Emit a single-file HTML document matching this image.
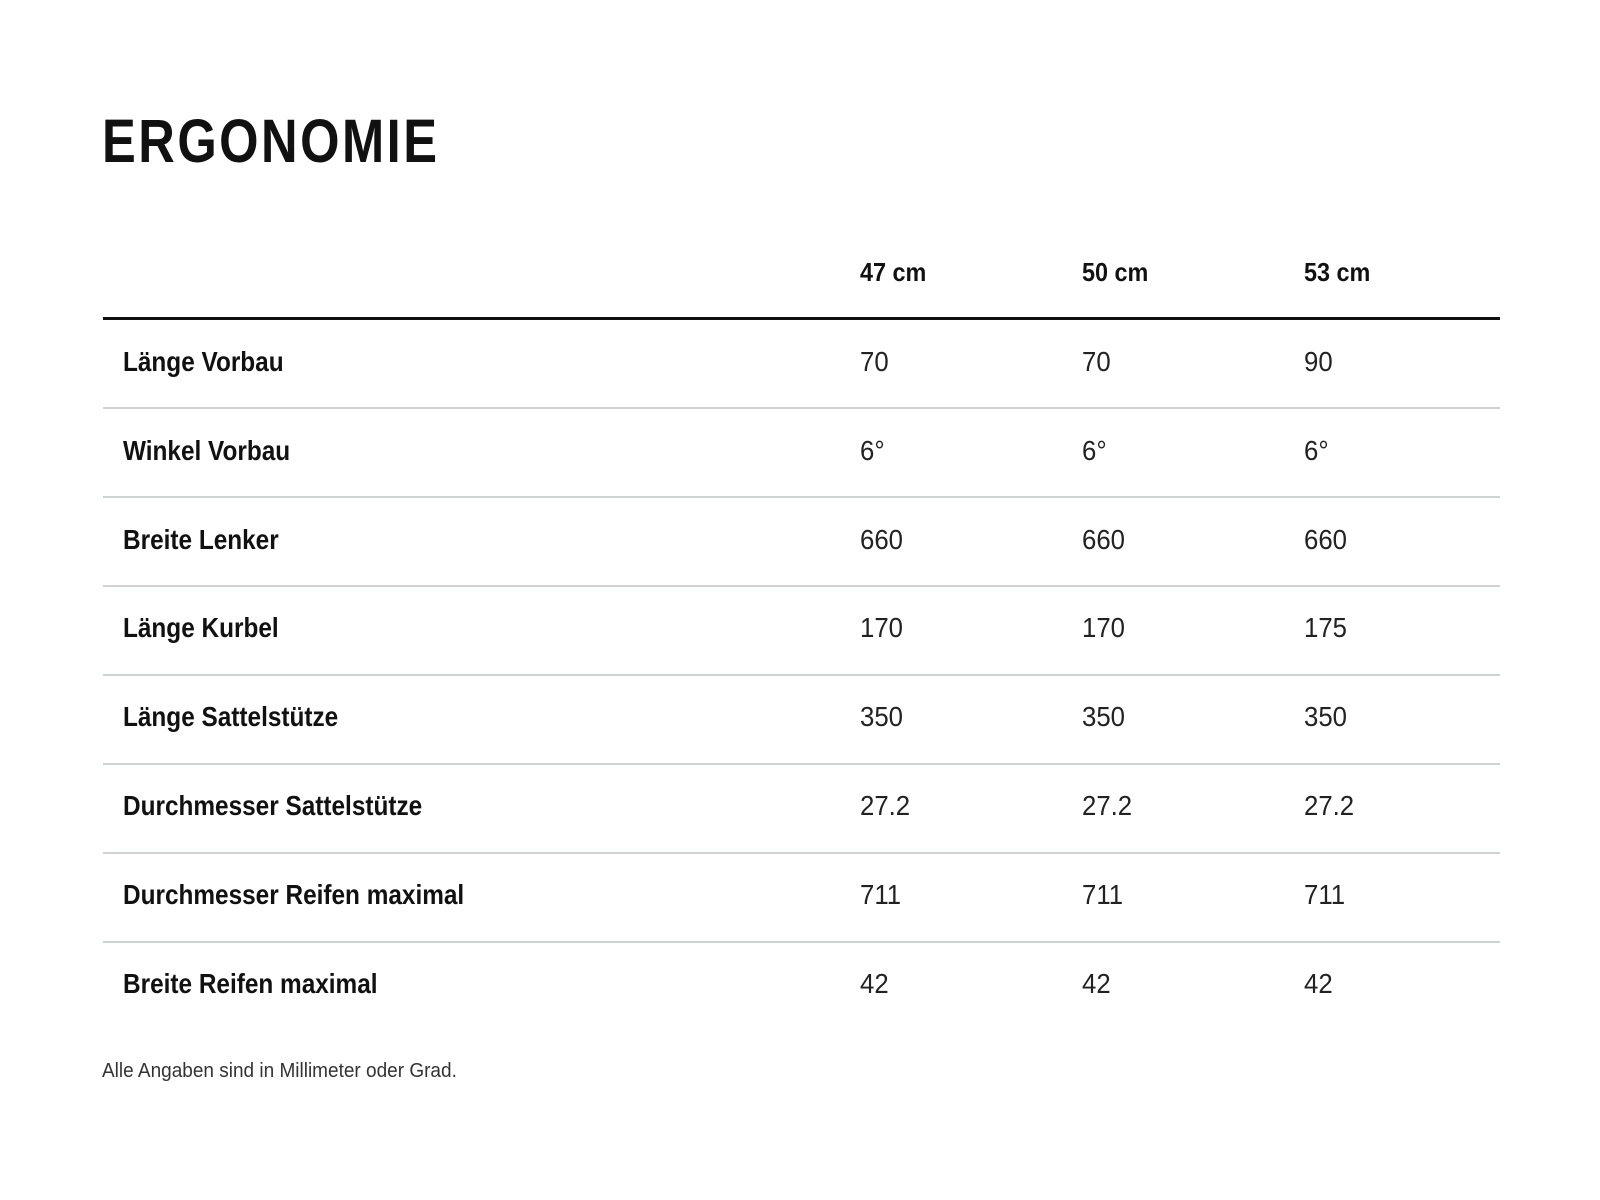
<!DOCTYPE html>
<html><head><meta charset="utf-8"><style>
body{margin:0;width:1600px;height:1200px;background:#fff;position:relative;overflow:hidden;font-family:"Liberation Sans",sans-serif;color:#111}
.a{position:absolute;white-space:nowrap;transform-origin:0 50%}
h1{position:absolute;left:102px;top:103px;margin:0;font-size:61px;line-height:76px;font-weight:bold;letter-spacing:3px;color:#111;transform:scaleX(0.83);transform-origin:0 50%;white-space:nowrap}
.h{font-weight:bold;font-size:26px;line-height:30px;transform:scaleX(0.9)}
.l{font-weight:bold;font-size:28px;line-height:32px;transform:scaleX(0.87)}
.v{font-size:28px;line-height:32px;color:#222;transform:scaleX(0.92)}
.sep{position:absolute;left:103px;width:1397px;height:2px;background:#cfd3d6}
</style></head><body>
<h1>ERGONOMIE</h1>
<div class="a h" style="left:860px;top:257px">47 cm</div>
<div class="a h" style="left:1082px;top:257px">50 cm</div>
<div class="a h" style="left:1304px;top:257px">53 cm</div>
<div style="position:absolute;left:103px;top:317px;width:1397px;height:3px;background:#111"></div>

<div class="a l" style="left:123px;top:346px">Länge Vorbau</div>
<div class="a v" style="left:860px;top:346px">70</div><div class="a v" style="left:1082px;top:346px">70</div><div class="a v" style="left:1304px;top:346px">90</div>
<div class="sep" style="top:407px"></div>

<div class="a l" style="left:123px;top:435px">Winkel Vorbau</div>
<div class="a v" style="left:860px;top:435px">6°</div><div class="a v" style="left:1082px;top:435px">6°</div><div class="a v" style="left:1304px;top:435px">6°</div>
<div class="sep" style="top:496px"></div>

<div class="a l" style="left:123px;top:524px">Breite Lenker</div>
<div class="a v" style="left:860px;top:524px">660</div><div class="a v" style="left:1082px;top:524px">660</div><div class="a v" style="left:1304px;top:524px">660</div>
<div class="sep" style="top:585px"></div>

<div class="a l" style="left:123px;top:612px">Länge Kurbel</div>
<div class="a v" style="left:860px;top:612px">170</div><div class="a v" style="left:1082px;top:612px">170</div><div class="a v" style="left:1304px;top:612px">175</div>
<div class="sep" style="top:674px"></div>

<div class="a l" style="left:123px;top:701px">Länge Sattelstütze</div>
<div class="a v" style="left:860px;top:701px">350</div><div class="a v" style="left:1082px;top:701px">350</div><div class="a v" style="left:1304px;top:701px">350</div>
<div class="sep" style="top:763px"></div>

<div class="a l" style="left:123px;top:790px">Durchmesser Sattelstütze</div>
<div class="a v" style="left:860px;top:790px">27.2</div><div class="a v" style="left:1082px;top:790px">27.2</div><div class="a v" style="left:1304px;top:790px">27.2</div>
<div class="sep" style="top:852px"></div>

<div class="a l" style="left:123px;top:879px">Durchmesser Reifen maximal</div>
<div class="a v" style="left:860px;top:879px">711</div><div class="a v" style="left:1082px;top:879px">711</div><div class="a v" style="left:1304px;top:879px">711</div>
<div class="sep" style="top:941px"></div>

<div class="a l" style="left:123px;top:968px">Breite Reifen maximal</div>
<div class="a v" style="left:860px;top:968px">42</div><div class="a v" style="left:1082px;top:968px">42</div><div class="a v" style="left:1304px;top:968px">42</div>

<div class="a" style="left:102px;top:1059px;font-size:20px;line-height:24px;color:#333;transform:scaleX(0.95)">Alle Angaben sind in Millimeter oder Grad.</div>
</body></html>
